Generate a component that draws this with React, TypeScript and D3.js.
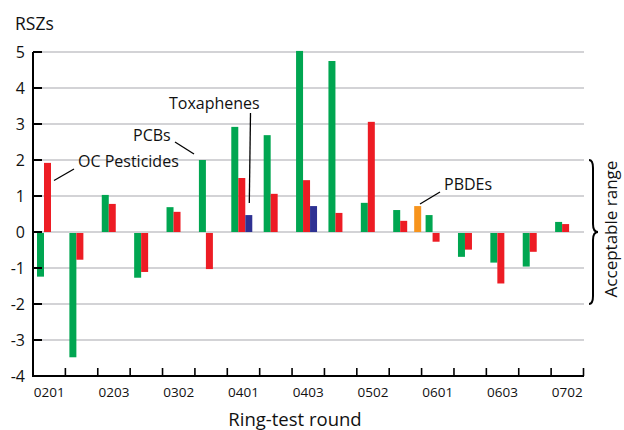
import React from "react";
import * as d3 from "d3";

const rounds = ["0201", "0202", "0203", "0301", "0302", "0303", "0401", "0402", "0403", "0501", "0502", "0503", "0601", "0602", "0603", "0701", "0702"];
const labelledRounds = ["0201", "0203", "0302", "0401", "0403", "0502", "0601", "0603", "0702"];
const pcbs: (number | null)[] = [-1.24, -3.48, 1.03, -1.27, 0.69, 2.0, 2.92, 2.69, 5.03, 4.75, 0.81, 0.61, 0.47, -0.69, -0.85, -0.96, 0.28];
const ocPesticides: (number | null)[] = [1.92, -0.77, 0.78, -1.11, 0.56, -1.03, 1.5, 1.06, 1.44, 0.53, 3.06, 0.31, -0.27, -0.49, -1.43, -0.55, 0.22];
const toxaphenes: (number | null)[] = [null, null, null, null, null, null, 0.47, null, 0.72, null, null, null, null, null, null, null, null];
const pbdes: (number | null)[] = [null, null, null, null, null, null, null, null, null, null, null, 0.72, null, null, null, null, null];
const yTicks = [-4, -3, -2, -1, 0, 1, 2, 3, 4, 5];
const seriesKeys = ["pcb", "oc", "tox", "pbde"];
const seriesColors: Record<string, string> = { pcb: "#00a651", oc: "#ed1c24", tox: "#2e3192", pbde: "#f7941d" };
const seriesValues: Record<string, (number | null)[]> = { pcb: pcbs, oc: ocPesticides, tox: toxaphenes, pbde: pbdes };

const W = 624;
const H = 430;
const FONT = "'Open Sans', 'Noto Sans', sans-serif";

export default function App() {
  const x = d3.scaleBand<string>().domain(rounds).range([33, 583.5]).padding(0);
  const bw = x.bandwidth();
  const sub = d3.scaleBand<string>().domain(seriesKeys).range([4, bw - 0.4]).padding(0);
  const y = d3.scaleLinear().domain([-4, 5]).range([376, 52]);
  const x0 = 33;
  const x1 = 584;

  const bars: JSX.Element[] = [];
  seriesKeys.forEach((k) => {
    seriesValues[k].forEach((v, i) => {
      if (v === null || v === undefined) return;
      const bx = (x(rounds[i]) as number) + (sub(k) as number);
      const top = v >= 0 ? y(v) : y(0) + 1;
      const h = v >= 0 ? y(0) - y(v) : y(v) - y(0) - 1;
      bars.push(<rect key={k + i} x={bx} y={top} width={sub.bandwidth()} height={h} fill={seriesColors[k]} />);
    });
  });

  const braceX = 593;
  const bTop = y(2);
  const bBot = y(-2);
  const bMid = y(0);
  const bracePath = `M ${braceX - 4} ${bTop} Q ${braceX} ${bTop} ${braceX} ${bTop + 8} L ${braceX} ${bMid - 8} Q ${braceX} ${bMid} ${braceX + 5} ${bMid} Q ${braceX} ${bMid} ${braceX} ${bMid + 8} L ${braceX} ${bBot - 8} Q ${braceX} ${bBot} ${braceX - 4} ${bBot}`;

  return (
    <svg width={W} height={H} style={{ position: "absolute", left: 0, top: 0, background: "#fff" }} fontFamily={FONT}>
      {/* gridlines */}
      {yTicks.filter((t) => t > -4).map((t) => (
        <line key={"g" + t} x1={x0} x2={x1} y1={y(t)} y2={y(t)} stroke="#c4c4c8" strokeWidth={1.6} />
      ))}
      {bars}
      {/* y axis */}
      <line x1={x0} x2={x0} y1={y(5)} y2={y(-4) + 1} stroke="#000" strokeWidth={2} />
      {yTicks.map((t) => (
        <g key={"yt" + t}>
          <line x1={x0} x2={x0 + 9} y1={y(t)} y2={y(t)} stroke="#000" strokeWidth={2} />
          <text x={25} y={y(t)} dy="0.36em" textAnchor="end" fontSize={16} fill="#111">{t}</text>
        </g>
      ))}
      {/* x axis */}
      <line x1={x0 - 1} x2={x1} y1={y(-4)} y2={y(-4)} stroke="#000" strokeWidth={2} />
      {rounds.map((r) => (
        <line key={"xt" + r} x1={(x(r) as number) + bw} x2={(x(r) as number) + bw} y1={y(-4)} y2={y(-4) - 8} stroke="#000" strokeWidth={1.6} />
      ))}
      {labelledRounds.map((r) => (
        <text key={"xl" + r} x={(x(r) as number) + bw / 2} y={397} textAnchor="middle" fontSize={13.5} fill="#111">{r}</text>
      ))}
      <text x={295} y={426} textAnchor="middle" fontSize={18.5} fill="#111">Ring-test round</text>
      <text x={15} y={30} fontSize={17.5} fill="#111">RSZs</text>

      {/* annotations */}
      <text x={78} y={167} fontSize={16} fill="#111">OC Pesticides</text>
      <line x1={54} y1={180.5} x2={74} y2={169} stroke="#000" strokeWidth={1.3} />
      <text x={133} y={141} fontSize={16} fill="#111">PCBs</text>
      <line x1={175} y1={142} x2={194} y2={154} stroke="#000" strokeWidth={1.3} />
      <text x={169} y={109} fontSize={16} fill="#111">Toxaphenes</text>
      <line x1={250.5} y1={113} x2={249.3} y2={203} stroke="#000" strokeWidth={1.3} />
      <text x={444} y={190} fontSize={16} fill="#111">PBDEs</text>
      <line x1={440} y1={192} x2={420} y2={204} stroke="#000" strokeWidth={1.3} />

      {/* acceptable range brace */}
      <path d={bracePath} fill="none" stroke="#000" strokeWidth={2} />
      <text transform={`translate(617, ${bMid - 3}) rotate(-90)`} textAnchor="middle" fontSize={17} fill="#111">Acceptable range</text>
    </svg>
  );
}
